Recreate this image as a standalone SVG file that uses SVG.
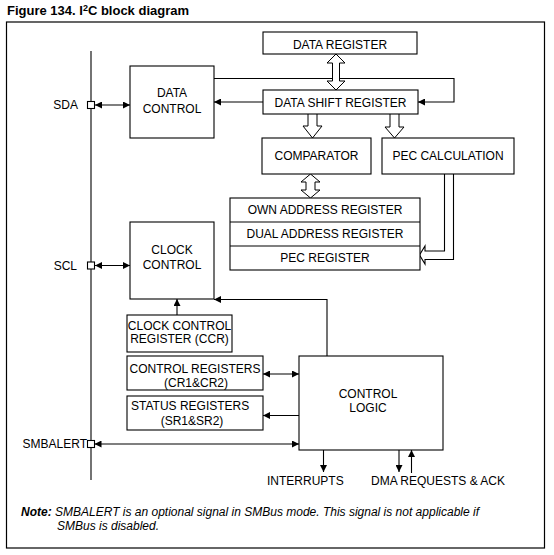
<svg xmlns="http://www.w3.org/2000/svg" width="554" height="555" viewBox="0 0 554 555">
<style>
text{font-family:"Liberation Sans",Arial,sans-serif;font-size:12px;fill:#000}
.c{text-anchor:middle}
.e{text-anchor:end}
.box{fill:#fff;stroke:#000;stroke-width:1.1}
.ln{fill:none;stroke:#000;stroke-width:1.1}
.hol{fill:#fff;stroke:#000;stroke-width:1}
.ttl{font-weight:bold;font-size:13px}
.note{font-style:italic;font-size:12px}
</style>
<defs>
<marker id="a" viewBox="0 0 7 7" refX="7" refY="3.5" markerWidth="7" markerHeight="7" markerUnits="userSpaceOnUse" orient="auto-start-reverse">
<path d="M0,0 L7,3.5 L0,7 Z" fill="#000"/>
</marker>
</defs>
<rect width="554" height="555" fill="#fff"/>
<text class="ttl" x="7" y="15">Figure 134. I<tspan font-size="9" dy="-4">2</tspan><tspan dy="4">C block diagram</tspan></text>
<rect x="6.5" y="22" width="538" height="526" fill="none" stroke="#000" stroke-width="1.2"/>

<g id="connectors">
<line class="ln" x1="91" y1="51" x2="91" y2="480"/>
<line class="ln" x1="95" y1="105" x2="130" y2="105" marker-start="url(#a)" marker-end="url(#a)"/>
<line class="ln" x1="263" y1="102" x2="214" y2="102" marker-end="url(#a)"/>
<polyline class="ln" points="214,78.5 454,78.5 454,102 418,102" marker-end="url(#a)"/>
<path class="hol" d="M336,54 L345,63 L339.5,63 L339.5,81 L345,81 L336,90 L327,81 L332.5,81 L332.5,63 L327,63 Z"/>
<path class="hol" d="M308,114 L308,126 L303,126 L312.5,138 L322,126 L317,126 L317,114"/>
<path class="hol" d="M390,114 L390,127 L385,127 L394.5,138 L404,127 L399,127 L399,114"/>
<path class="hol" d="M310.5,174 L320,182 L315,182 L315,190 L320,190 L310.5,198 L301,190 L306,190 L306,182 L301,182 Z"/>
<path class="ln" stroke-width="1" d="M444.5,174 L444.5,251 L425,251 L425,246 L419.5,255 L425,264 L425,259.5 L453.5,259.5 L453.5,174"/>
<line class="ln" x1="95" y1="265.5" x2="130" y2="265.5" marker-start="url(#a)" marker-end="url(#a)"/>
<line class="ln" x1="177" y1="315" x2="177" y2="299" marker-end="url(#a)"/>
<polyline class="ln" points="327,356 327,299.5 214,299.5" marker-end="url(#a)"/>
<line class="ln" x1="263" y1="374" x2="299" y2="374" marker-start="url(#a)" marker-end="url(#a)"/>
<line class="ln" x1="301" y1="415.5" x2="263" y2="415.5" marker-end="url(#a)"/>
<line class="ln" x1="94.5" y1="444" x2="299" y2="444" marker-start="url(#a)" marker-end="url(#a)"/>
<line class="ln" x1="323.5" y1="450" x2="323.5" y2="472" marker-end="url(#a)"/>
<line class="ln" x1="399" y1="450" x2="399" y2="472" marker-end="url(#a)"/>
<line class="ln" x1="411.5" y1="473" x2="411.5" y2="450" marker-end="url(#a)"/>
</g>

<g id="sda"><rect class="box" x="87.5" y="101.5" width="7" height="7" stroke-width="1"/><text class="e" x="78" y="109">SDA</text></g>
<g id="scl"><rect class="box" x="87.5" y="262" width="7" height="7" stroke-width="1"/><text class="e" x="77" y="269.5">SCL</text></g>
<g id="smbalert"><rect class="box" x="87.5" y="440.5" width="7" height="7" stroke-width="1"/><text class="e" x="87" y="448">SMBALERT</text></g>

<g id="data-control"><rect class="box" x="130" y="66" width="84" height="72"/><text class="c" x="172" y="97">DATA</text><text class="c" x="172" y="113">CONTROL</text></g>
<g id="data-register"><rect class="box" x="263" y="32" width="154" height="22"/><text class="c" x="340" y="49">DATA REGISTER</text></g>
<g id="data-shift-register"><rect class="box" x="263" y="90" width="155" height="24"/><text class="c" x="340.5" y="106.5">DATA SHIFT REGISTER</text></g>
<g id="comparator"><rect class="box" x="262" y="138" width="109" height="36"/><text class="c" x="316.5" y="160">COMPARATOR</text></g>
<g id="pec-calculation"><rect class="box" x="382" y="138" width="132" height="36"/><text class="c" x="448" y="159.5">PEC CALCULATION</text></g>
<g id="address-registers">
<rect class="box" x="230" y="198" width="190" height="72"/>
<line class="ln" x1="230" y1="222" x2="420" y2="222"/>
<line class="ln" x1="230" y1="246" x2="420" y2="246"/>
<text class="c" x="325" y="214">OWN ADDRESS REGISTER</text>
<text class="c" x="325" y="238">DUAL ADDRESS REGISTER</text>
<text class="c" x="325" y="262">PEC REGISTER</text>
</g>
<g id="clock-control"><rect class="box" x="130" y="222" width="84" height="77"/><text class="c" x="172" y="254">CLOCK</text><text class="c" x="172" y="269">CONTROL</text></g>
<g id="ccr"><rect class="box" x="127" y="315" width="105" height="37"/><text class="c" x="179.5" y="330">CLOCK CONTROL</text><text class="c" x="179.5" y="343">REGISTER (CCR)</text></g>
<g id="control-registers"><rect class="box" x="127" y="356" width="136" height="34"/><text class="c" x="195" y="373">CONTROL REGISTERS</text><text class="c" x="196" y="387">(CR1&amp;CR2)</text></g>
<g id="status-registers"><rect class="box" x="127" y="396" width="136" height="34"/><text x="131" y="410">STATUS REGISTERS</text><text class="c" x="192" y="425">(SR1&amp;SR2)</text></g>
<g id="control-logic"><rect class="box" x="299" y="356" width="144" height="94"/><text class="c" x="368" y="398">CONTROL</text><text class="c" x="368" y="411.5">LOGIC</text></g>
<g id="interrupts"><text x="267" y="485">INTERRUPTS</text></g>
<g id="dma"><text x="371" y="485">DMA REQUESTS &amp; ACK</text></g>

<text class="note" x="21" y="516"><tspan font-weight="bold">Note:</tspan> SMBALERT is an optional signal in SMBus mode. This signal is not applicable if</text>
<text class="note" x="57" y="530">SMBus is disabled.</text>
</svg>
